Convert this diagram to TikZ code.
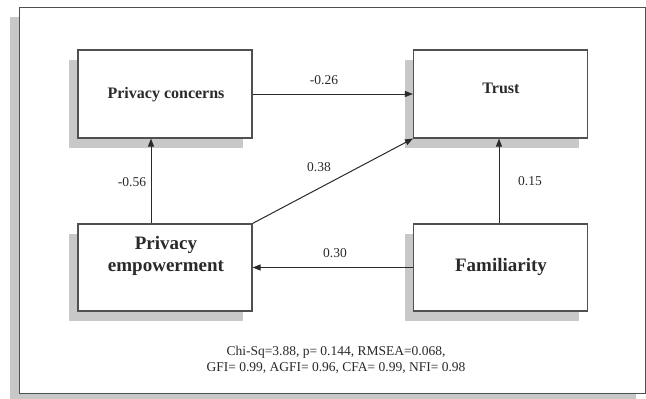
\documentclass[tikz,border=0pt]{standalone}
\usepackage{fontspec}
\setmainfont{Liberation Serif}
\usetikzlibrary{arrows.meta,shadows}
\definecolor{shadowgrey}{HTML}{C8C8C8}
\definecolor{edge}{HTML}{505050}
\definecolor{ink}{HTML}{2A2A2A}
\tikzset{
  box/.style={draw=edge, line width=1.1pt, fill=white, minimum width=174pt,
    inner sep=0pt, drop shadow={shadow xshift=-9pt, shadow yshift=-10pt,
    fill=shadowgrey, opacity=1}},
  smalltitle/.style={font=\fontsize{16}{19}\selectfont\bfseries, text=ink, inner sep=0pt},
  bigtitle/.style={font=\fontsize{19}{22}\selectfont\bfseries, text=ink, inner sep=0pt, align=center},
  coef/.style={font=\fontsize{13.5}{16}\selectfont, text=ink, inner sep=0pt},
  path/.style={draw=ink, line width=1pt, -{Triangle[length=8pt,width=6pt]}}
}
\begin{document}
\begin{tikzpicture}[x=1pt,y=-1pt]
\useasboundingbox (0,0) rectangle (646,399);
% outer panel with its shadow
\fill[shadowgrey] (10,17) rectangle (636,405);
\draw[edge, line width=1pt, fill=white] (19,7) rectangle (645,393);

% construct boxes
\node[box, minimum height=88pt] (pc) at (165,94) {};
\node[box, minimum height=88pt] (trust) at (500.5,94) {};
\node[box, minimum height=87pt] (pe) at (165,267.5) {};
\node[box, minimum height=87pt] (fam) at (500.5,267.5) {};

% construct names
\node[smalltitle] (pctext) at (166,95) {Privacy concerns};
\node[smalltitle] (trusttext) at (501,88) {Trust};
\node[bigtitle] (petext) at (166,256) {Privacy\\empowerment};
\node[bigtitle] (famtext) at (501,267) {Familiarity};

% structural paths
\draw[path] (pc.east) -- (trust.west);
\draw[path] ([xshift=-14pt]pe.north) -- ([xshift=-14pt]pc.south);
\draw[path] (pe.north east) -- (trust.south west);
\draw[path] ([xshift=-1.5pt]fam.north) -- ([xshift=-1.5pt]trust.south);
\draw[path] (fam.west) -- (pe.east);

% path coefficients
\node[coef] (c1) at (324,80) {-0.26};
\node[coef] (c2) at (132,182) {-0.56};
\node[coef] (c3) at (319,167) {0.38};
\node[coef] (c4) at (530,181) {0.15};
\node[coef] (c5) at (335,253) {0.30};

% fit statistics
\node[coef, align=center] (fit) at (336,359.5)
  {Chi-Sq=3.88, p= 0.144, RMSEA=0.068,\\GFI= 0.99, AGFI= 0.96, CFA= 0.99, NFI= 0.98};
\end{tikzpicture}
\end{document}
